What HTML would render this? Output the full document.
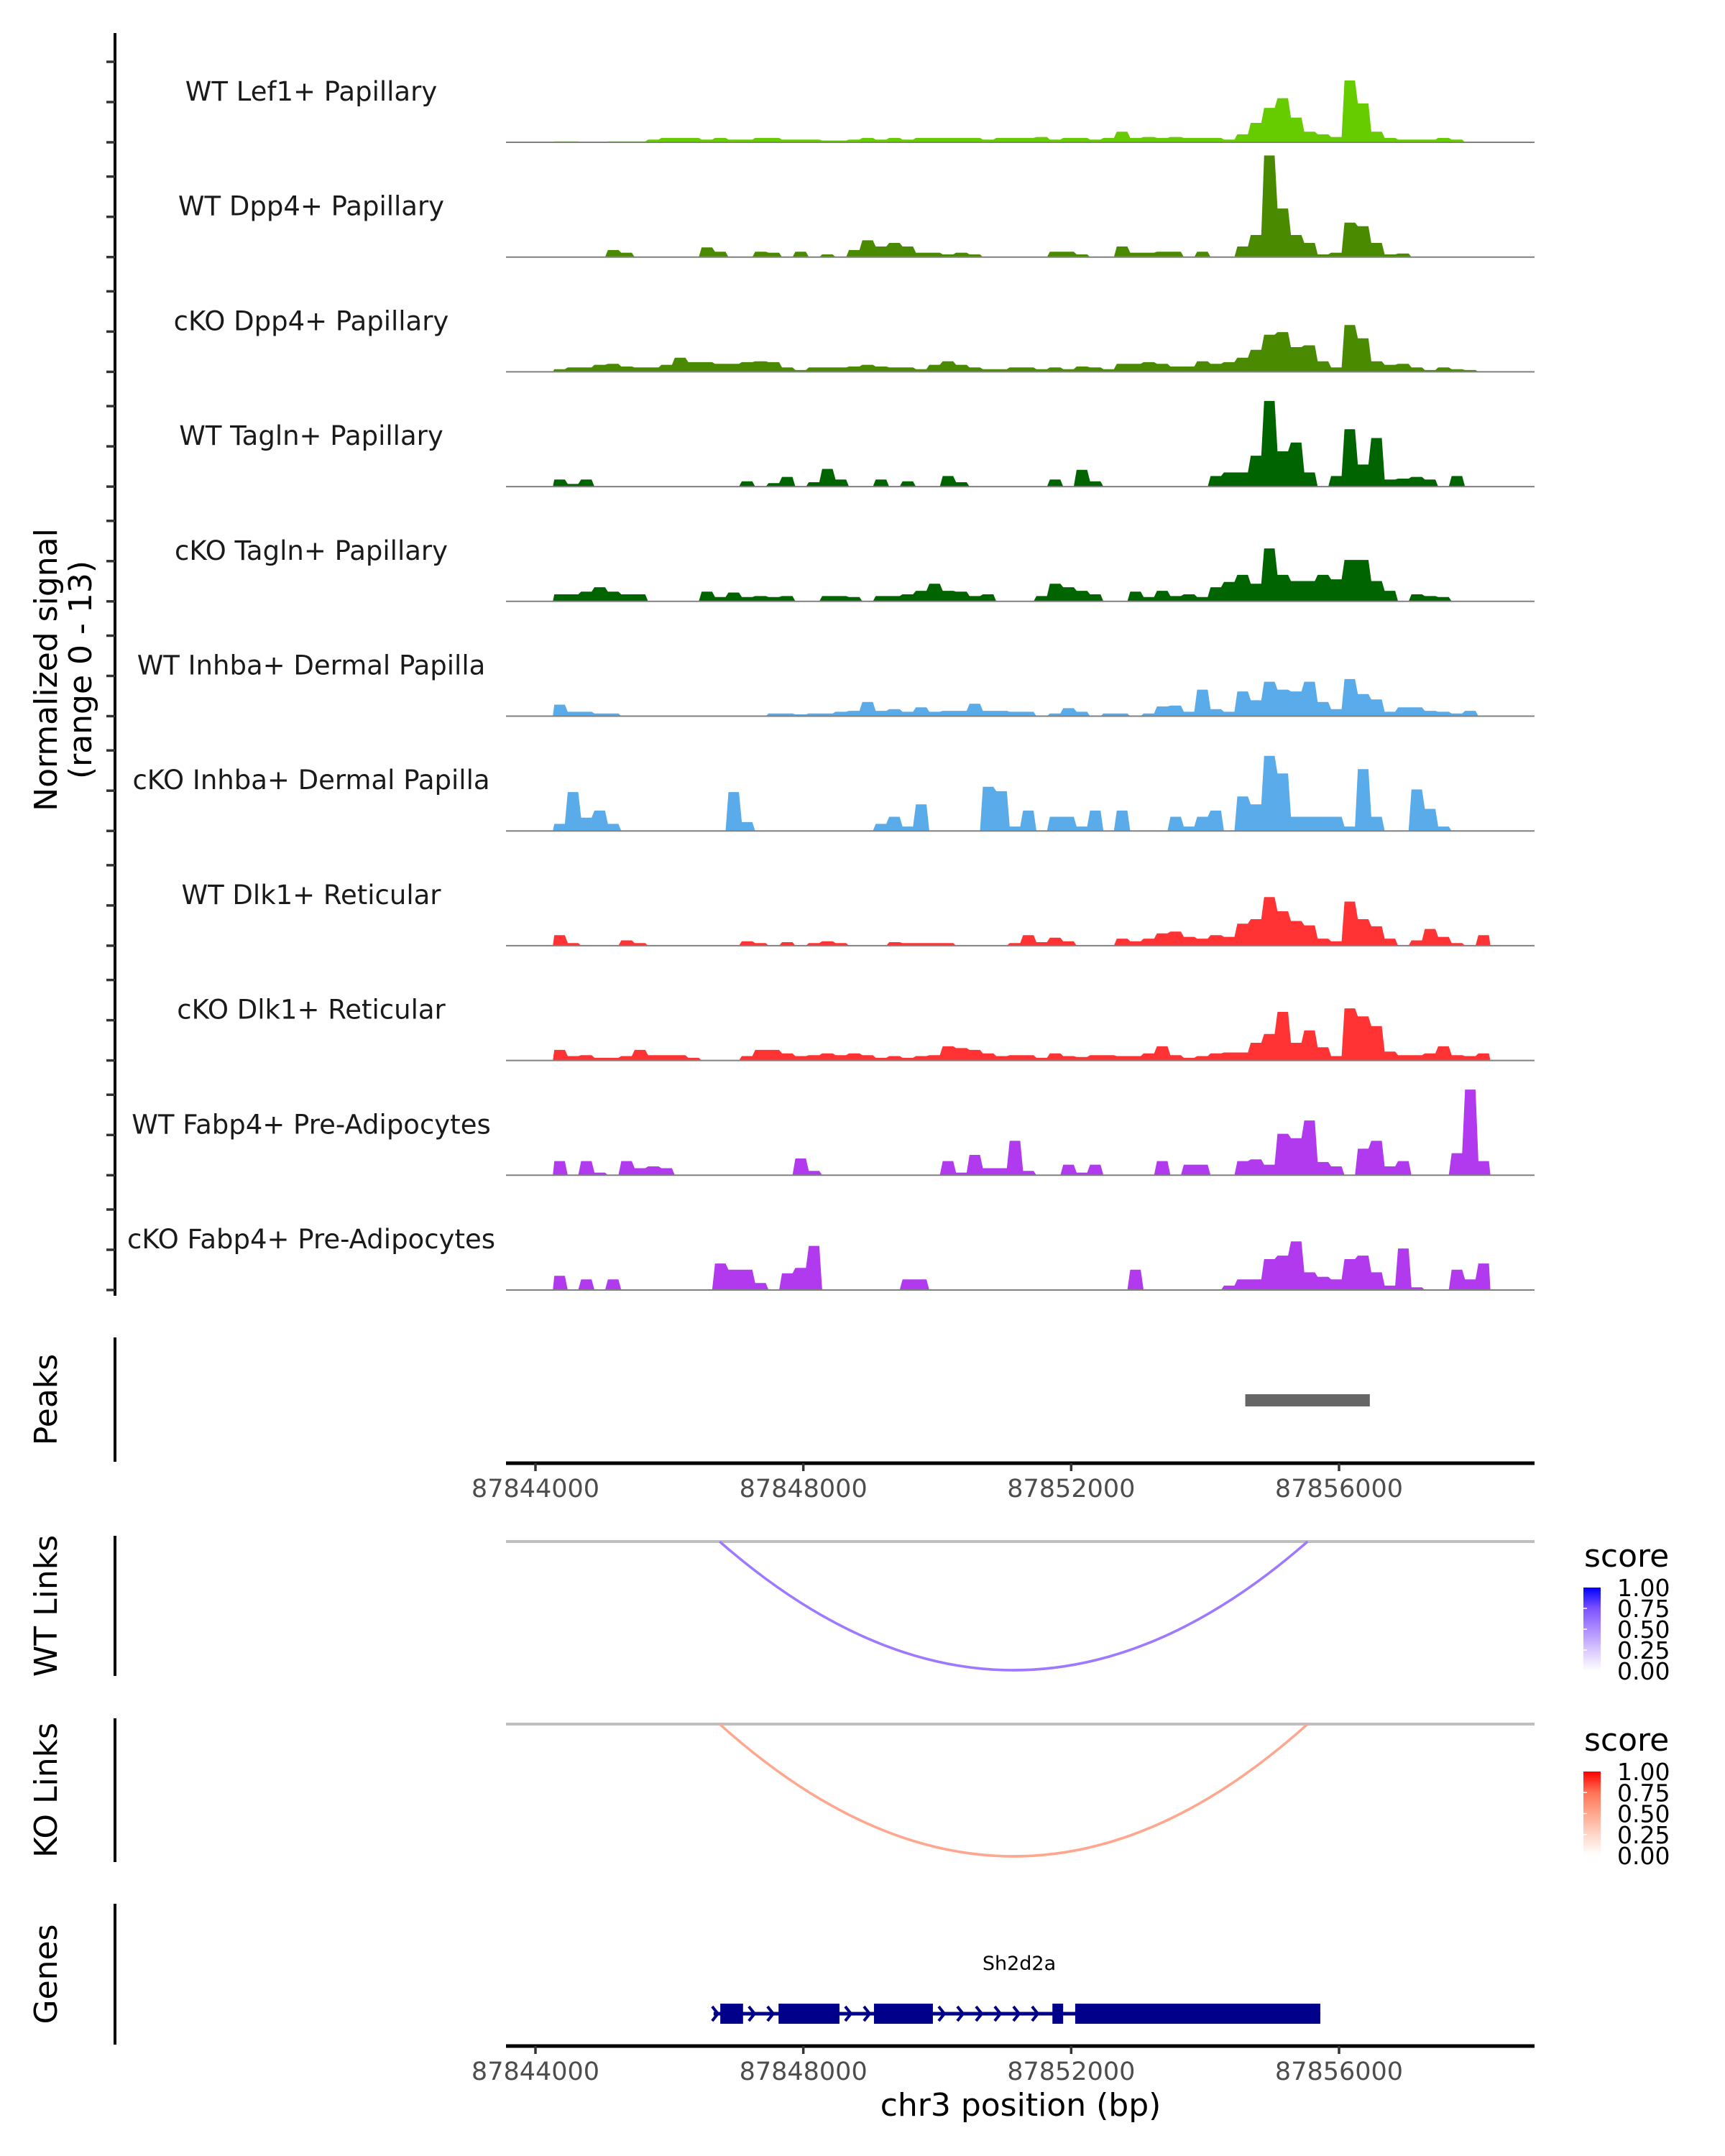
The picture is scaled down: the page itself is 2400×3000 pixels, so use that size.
<!DOCTYPE html>
<html><head><meta charset="utf-8"><style>
html,body{margin:0;padding:0;background:#fff;}
svg{display:block;font-family:"DejaVu Sans","Liberation Sans",sans-serif;}
</style></head><body>
<svg id="chart" width="2400" height="3000" viewBox="0 0 2400 3000" xmlns="http://www.w3.org/2000/svg">
<defs>
<linearGradient id="gBlue" x1="0" y1="1" x2="0" y2="0"><stop offset="0" stop-color="#ffffff"/><stop offset="0.25" stop-color="#d9c8ff"/><stop offset="0.5" stop-color="#ad8cff"/><stop offset="0.75" stop-color="#7c52ff"/><stop offset="1" stop-color="#0000ff"/></linearGradient>
<linearGradient id="gRed" x1="0" y1="1" x2="0" y2="0"><stop offset="0" stop-color="#ffffff"/><stop offset="0.25" stop-color="#ffd7ca"/><stop offset="0.5" stop-color="#ffa78e"/><stop offset="0.75" stop-color="#ff7356"/><stop offset="1" stop-color="#ff0000"/></linearGradient>
</defs>
<g id="tracks"></g>
<g id="lower"></g>
</svg>
<script>
// ---- data ----
const trackNames = ["WT Lef1+ Papillary","WT Dpp4+ Papillary","cKO Dpp4+ Papillary","WT Tagln+ Papillary","cKO Tagln+ Papillary","WT Inhba+ Dermal Papilla","cKO Inhba+ Dermal Papilla","WT Dlk1+ Reticular","cKO Dlk1+ Reticular","WT Fabp4+ Pre-Adipocytes","cKO Fabp4+ Pre-Adipocytes"];
const trackColors = ["#66cc00","#4a8a00","#4a8a00","#006400","#006400","#5aabea","#5aabea","#ff3333","#ff3333","#b23aee","#b23aee"];
const binStart = 87844260;
const binSize = 200;
const sigLef1WT = [0.1,0.1,0,0,0.1,0.1,0.1,0.3,0.5,0.5,0.5,0.3,0.5,0.3,0.3,0.5,0.5,0.3,0.3,0.3,0.2,0.2,0.3,0.5,0.3,0.5,0.3,0.5,0.5,0.5,0.5,0.5,0.3,0.5,0.5,0.5,0.6,0.3,0.5,0.5,0.3,0.5,1.2,0.5,0.6,0.5,0.6,0.5,0.5,0.5,0.3,0.9,2.2,3.9,5.0,2.8,1.2,0.9,0.6,7.0,4.4,1.2,0.5,0.3,0.3,0.3,0.5,0.3,0,0];
const sigDpp4WT = [0,0,0,0,0.8,0.5,0,0,0,0,0,1.1,0.6,0,0,0.6,0.5,0,0.6,0,0.3,0,0.8,1.9,1.2,1.6,1.2,0.5,0.5,0.3,0.5,0.3,0,0,0,0,0,0.6,0.6,0.3,0,0,1.2,0.5,0.5,0.6,0.6,0,0.6,0,0,1.2,2.5,11.5,5.5,2.5,1.6,0.3,0.5,3.9,3.5,1.6,0.3,0.4,0,0,0,0,0,0];
const sigDpp4KO = [0.3,0.5,0.5,0.8,0.9,0.6,0.5,0.5,0.8,1.6,1.1,1.1,0.9,0.9,1.1,1.2,1.1,0.5,0.2,0.5,0.5,0.5,0.6,0.8,0.6,0.5,0.5,0.3,0.8,1.2,0.8,0.5,0.3,0.3,0.5,0.5,0.3,0.5,0.3,0.6,0.5,0.3,0.9,0.9,1.1,0.9,0.6,0.6,1.2,0.9,1.1,1.6,2.5,4.2,4.5,2.8,3.0,1.2,0.5,5.3,3.8,1.2,0.8,0.9,0.5,0.2,0.5,0.3,0.2,0];
const sigTaglnWT = [0.8,0.3,0.8,0,0,0,0,0,0,0,0,0,0,0,0.6,0,0.4,1.1,0,0.5,2.0,0.8,0,0,0.8,0,0.6,0,0,1.2,0.5,0,0,0,0,0,0,0.8,0,1.9,0.6,0,0,0,0,0,0,0,0,1.2,1.6,1.6,3.5,9.7,4.0,5.0,1.6,0,1.2,6.5,2.5,5.5,0.8,0.9,1.1,0.8,0,1.2,0,0];
const sigTaglnKO = [0.8,0.8,1.1,1.6,1.1,0.8,0.8,0,0,0,0,1.1,0.5,1.0,0.5,0.6,0.5,0.6,0,0,0.6,0.6,0.5,0,0.6,0.6,0.8,1.2,2.0,1.2,1.1,0.6,0.8,0,0,0,0.6,2.0,1.6,1.2,0.8,0,0,1.1,0.5,1.2,0.6,0.8,0.5,1.6,2.2,3.0,2.0,6.0,3.0,2.3,2.3,3.0,2.5,4.7,4.7,2.3,1.2,0,0.8,0.6,0.5,0,0,0];
const sigInhbaWT = [1.3,0.5,0.5,0.3,0.3,0,0,0,0,0,0,0,0,0,0,0,0.3,0.3,0.2,0.3,0.3,0.5,0.6,1.6,0.6,0.8,0.5,1.0,0.5,0.6,0.6,1.4,0.6,0.6,0.5,0.5,0,0.3,0.9,0.5,0,0.3,0.3,0,0.3,1.1,1.2,0.5,3.0,0.8,0.5,2.8,1.8,3.9,3.0,2.8,3.9,1.6,0.8,4.2,2.5,1.9,0.5,1.0,1.0,0.6,0.5,0.3,0.6,0];
const sigInhbaKO = [0.8,4.4,1.5,2.3,0.8,0,0,0,0,0,0,0,0,4.4,1.0,0,0,0,0,0,0,0,0,0,0.8,1.6,0.5,3.0,0,0,0,0,5.0,4.5,0.5,2.3,0,1.6,1.6,0.5,2.3,0,2.3,0,0,0,1.6,0.5,1.6,2.3,0,3.9,3.0,8.5,6.5,1.6,1.6,1.6,1.6,0.5,7.0,1.6,0,0,4.7,2.5,0.5,0,0,0];
const sigDlk1WT = [1.2,0.3,0,0,0,0.6,0.3,0,0,0,0,0,0,0,0.5,0.3,0,0.4,0,0.3,0.5,0.3,0,0,0,0.4,0.3,0.3,0.3,0.3,0,0,0,0,0.3,1.2,0.4,0.9,0.5,0,0,0,0.8,0.5,0.8,1.4,1.6,1.0,0.8,1.2,1.0,2.5,3.0,5.5,3.9,2.8,2.3,0.8,0.5,5.0,3.0,2.2,0.8,0,0.6,1.9,1.0,0.3,0,1.2];
const sigDlk1KO = [1.2,0.5,0.6,0.3,0.3,0.5,1.2,0.6,0.6,0.6,0.3,0,0,0,0.5,1.2,1.2,0.8,0.5,0.6,0.8,0.6,0.8,0.6,0.3,0.5,0.3,0.5,0.6,1.6,1.4,1.2,0.8,0.5,0.6,0.6,0.3,0.8,0.5,0.4,0.6,0.6,0.5,0.5,0.8,1.6,0.6,0.3,0.5,0.8,0.9,0.9,2.0,3.0,5.5,2.0,3.4,1.5,0.5,5.9,5.0,3.9,1.0,0.6,0.6,0.8,1.6,0.6,0.5,0.8];
const sigFabp4WT = [1.6,0,1.6,0.3,0,1.6,0.8,1.0,0.8,0,0,0,0,0,0,0,0,0,1.9,0.5,0,0,0,0,0,0,0,0,0,1.6,0.3,2.3,0.8,0.8,3.9,0.5,0,0,1.2,0.3,1.2,0,0,0,0,1.6,0,1.2,1.2,0,0,1.6,1.8,1.2,4.7,4.2,6.2,1.5,1.0,0,3.0,3.9,1.0,1.6,0,0,0,2.5,9.7,1.6];
const sigFabp4KO = [1.6,0,1.2,0,1.2,0,0,0,0,0,0,0,3.0,2.3,2.3,0.8,0,1.9,2.5,5.0,0,0,0,0,0,0,1.2,1.2,0,0,0,0,0,0,0,0,0,0,0,0,0,0,0,2.3,0,0,0,0,0,0,0.5,1.2,1.2,3.5,3.9,5.5,2.0,1.5,1.2,3.5,3.9,2.0,0.5,4.7,0.3,0,0,2.3,1.2,3.0];
const trackSignals = [sigLef1WT,sigDpp4WT,sigDpp4KO,sigTaglnWT,sigTaglnKO,sigInhbaWT,sigInhbaKO,sigDlk1WT,sigDlk1KO,sigFabp4WT,sigFabp4KO];
const xTicks = [87844000,87848000,87852000,87856000];
const xTickLabels = ["87844000","87848000","87852000","87856000"];
const peakStarts = [87854600];
const peakEnds = [87856460];
const linkStarts = [87846750];
const linkEnds = [87855530];
const wtLinkScores = [0.58];
const koLinkScores = [0.5];
const geneStart = 87846660;
const geneEnd = 87855720;
const exonStarts = [87846760,87847630,87849055,87851720,87852060];
const exonEnds = [87847100,87848540,87849935,87851880,87855720];
const legendTicks = [0,0.25,0.5,0.75,1];
const legendLabels = ["0.00","0.25","0.50","0.75","1.00"];
const yMax = 13;

// ---- scales ----
const X0 = 745, PX_PER_BP = (1863-745)/12000;
function xScale(bp){return X0 + (bp-87844000)*PX_PER_BP;}
const TRACK_H = 159.7;
function baseline(k){return 198 + k*TRACK_H;}
function yScale(v,k){return baseline(k) - v/yMax*TRACK_H;}

const NS="http://www.w3.org/2000/svg";
function mk(tag,attrs,parent,text){const e=document.createElementNS(NS,tag);for(const a in attrs)e.setAttribute(a,attrs[a]);if(text!==undefined)e.textContent=text;parent.appendChild(e);return e;}
const tg=document.getElementById('tracks');
const lg=document.getElementById('lower');
const AX_L=704, AX_R=2135;

let e=mk('line',{x1:160,y1:46,x2:160,y2:1803,stroke:'#000','stroke-width':4},tg);


for(let k=0;k<trackNames.length;k++){
  for(let j=0;j<3;j++){
    const ty=baseline(k)-j*56;
    const t=mk('line',{x1:148,y1:ty,x2:160,y2:ty,stroke:'#333','stroke-width':3.5},tg);
    
    
  }
}
e=mk('text',{transform:'translate(79,932) rotate(-90)','text-anchor':'middle','font-size':44,fill:'#000'},tg,'Normalized signal');


e=mk('text',{transform:'translate(127,932) rotate(-90)','text-anchor':'middle','font-size':44,fill:'#000'},tg,'(range 0 - 13)');



for(let k=0;k<trackNames.length;k++){
  const g=mk('g',{},tg);
  
  
  const vals=trackSignals[k];
  let d='M'+xScale(binStart).toFixed(1)+','+baseline(k).toFixed(1);
  for(let i=0;i<vals.length;i++){
    const xa=xScale(binStart+i*binSize), xb=xScale(binStart+(i+1)*binSize);
    const y=yScale(vals[i],k);
    d+=' L'+(xa+2).toFixed(1)+','+y.toFixed(1)+' L'+(xb-2).toFixed(1)+','+y.toFixed(1);
  }
  d+=' L'+xScale(binStart+vals.length*binSize).toFixed(1)+','+baseline(k).toFixed(1)+' Z';
  const p=mk('path',{d:d,fill:trackColors[k],stroke:'none'},g);
  
  
  const b=mk('line',{x1:AX_L,y1:baseline(k),x2:AX_R,y2:baseline(k),stroke:'#808080','stroke-width':2},g);
  
  
  const l=mk('text',{x:433,y:baseline(k)-71+13,'text-anchor':'middle','font-size':37,fill:'#1a1a1a'},g,trackNames[k]);
  
  
}

function panelAxis(y1,y2,label,name){
  const a=mk('line',{x1:160,y1:y1,x2:160,y2:y2,stroke:'#000','stroke-width':4},lg);
  
  
  const t=mk('text',{transform:'translate(79,'+((y1+y2)/2)+') rotate(-90)','text-anchor':'middle','font-size':44,fill:'#000'},lg,label);
  
  
}
function xAxis(y,name){
  const a=mk('line',{x1:AX_L,y1:y,x2:AX_R,y2:y,stroke:'#000','stroke-width':5},lg);
  
  
  for(let i=0;i<xTicks.length;i++){
    const x=xScale(xTicks[i]);
    const t=mk('line',{x1:x,y1:y,x2:x,y2:y+11,stroke:'#333','stroke-width':3.5},lg);
    
    
    const l=mk('text',{x:x,y:y+47,'text-anchor':'middle','font-size':35,fill:'#4d4d4d'},lg,xTickLabels[i]);
    
    
  }
}

panelAxis(1861,2034,'Peaks','peaks');
for(let i=0;i<peakStarts.length;i++){
  const r=mk('rect',{x:xScale(peakStarts[i]),y:1940,width:xScale(peakEnds[i])-xScale(peakStarts[i]),height:17,fill:'#666666'},lg);
  
  
}
xAxis(2036,'x-axis-top');

function linkPanel(top,bottom,label,name,scores,colFn){
  panelAxis(top-8,bottom+8,label,name);
  const gl=mk('line',{x1:AX_L,y1:top,x2:AX_R,y2:top,stroke:'#bebebe','stroke-width':4},lg);
  
  
  for(let i=0;i<linkStarts.length;i++){
    const xa=xScale(linkStarts[i]), xb=xScale(linkEnds[i]);
    const cy=top+2*(bottom-top);
    const p=mk('path',{d:`M${xa},${top} Q${(xa+xb)/2},${cy} ${xb},${top}`,fill:'none',stroke:colFn(scores[i]),'stroke-width':3.5},lg);
    
    
  }
}
const blueStops=[[255,255,255],[217,200,255],[173,140,255],[124,82,255],[0,0,255]];
const redStops=[[255,255,255],[255,215,202],[255,167,142],[255,115,86],[255,0,0]];
function ramp(stops,s){const f=s*4,i=Math.min(3,Math.floor(f)),t=f-i;return 'rgb('+[0,1,2].map(c=>Math.round(stops[i][c]+(stops[i+1][c]-stops[i][c])*t)).join(',')+')';}
linkPanel(2145,2324,'WT Links','wt-links',wtLinkScores,s=>ramp(blueStops,s));
linkPanel(2399,2583,'KO Links','ko-links',koLinkScores,s=>ramp(redStops,s));

function legend(barTop,barBot,grad,name){
  const g=mk('g',{},lg);
  
  
  const t=mk('text',{x:2204,y:barTop-29,'font-size':44,fill:'#000'},g,'score');
  
  
  const r=mk('rect',{x:2203,y:barTop,width:24,height:barBot-barTop,fill:'url(#'+grad+')'},g);
  
  
  for(let i=0;i<legendTicks.length;i++){
    const y=barBot-legendTicks[i]*(barBot-barTop);
    if(i>0&&i<legendTicks.length-1){
      const tk=mk('line',{x1:2203,y1:y,x2:2208,y2:y,stroke:'#fff','stroke-width':1.5},g);
      
      
    }
    const l=mk('text',{x:2250,y:y+12,'font-size':33,fill:'#000'},g,legendLabels[i]);
    
    
  }
}
legend(2209,2325,'gBlue','wt-score-legend');
legend(2465,2582,'gRed','ko-score-legend');

panelAxis(2649,2845,'Genes','genes');
const gg=mk('g',{},lg);


const GY=2802;
e=mk('line',{x1:xScale(geneStart),y1:GY,x2:xScale(geneEnd),y2:GY,stroke:'#00008b','stroke-width':5},gg);


for(let i=0;i<exonStarts.length;i++){
  const r=mk('rect',{x:xScale(exonStarts[i]),y:2788,width:xScale(exonEnds[i])-xScale(exonStarts[i]),height:28,fill:'#00008b'},gg);
  
  
}
const chev=[xScale(geneStart)+2];
for(let i=0;i<exonStarts.length-1;i++){
  const a=xScale(exonEnds[i]), b=xScale(exonStarts[i+1]);
  for(let x=a+12;x<b-6;x+=26) chev.push(x);
}
for(const x of chev){
  const c=mk('path',{d:`M${x-4},${GY-10} L${x+4},${GY} L${x-4},${GY+10}`,fill:'none',stroke:'#00008b','stroke-width':4},gg);
  
  
}
e=mk('text',{x:1418,y:2741,'text-anchor':'middle','font-size':27,fill:'#000'},gg,'Sh2d2a');


xAxis(2847,'x-axis-bottom');
e=mk('text',{x:1420,y:2944,'text-anchor':'middle','font-size':44,fill:'#000'},lg,'chr3 position (bp)');


</script>
</body></html>
